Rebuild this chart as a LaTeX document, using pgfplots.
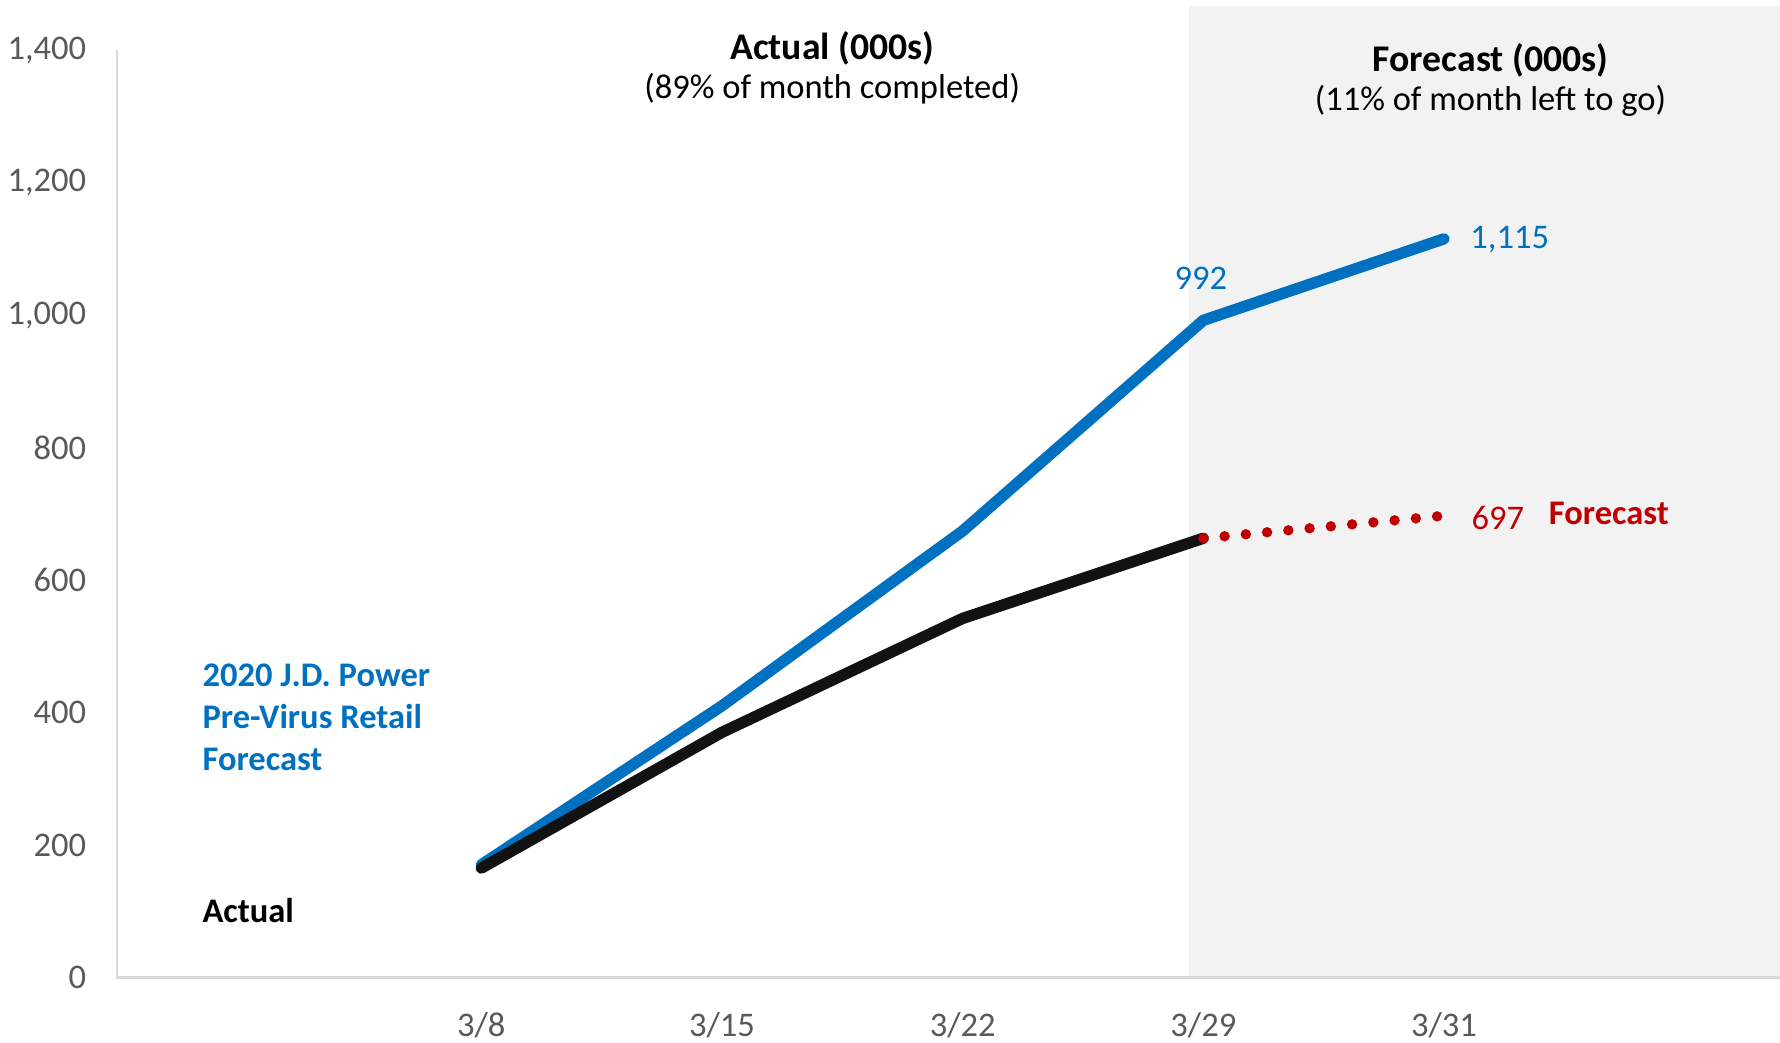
\documentclass[border=0pt]{standalone}
\usepackage{fontspec}
\setmainfont{Carlito}
\usepackage{pgfplots}
\pgfplotsset{compat=1.18}
\definecolor{jdblue}{HTML}{0070C0}
\definecolor{fcred}{HTML}{C00000}
\definecolor{shade}{HTML}{F2F2F2}
\definecolor{axisgray}{HTML}{D9D9D9}
\definecolor{ticktext}{HTML}{595959}

\newcommand{\lbl}{\fontsize{15.2}{18.5}\selectfont}

\begin{document}
\begin{tikzpicture}
\begin{axis}[
  name=ax,
  scale only axis,
  width=732.5pt, height=428pt,
  xmin=-1.514, xmax=5.396,
  ymin=0, ymax=1467,
  axis line style={draw=none},
  major tick length=0pt,
  xtick={0,1,2,3,4},
  xticklabels={3/8,3/15,3/22,3/29,3/31},
  ytick={0,200,...,1400},
  /pgf/number format/assume math mode=true,
  /pgf/number format/1000 sep={,},
  tick label style={font=\lbl, text=ticktext},
  xticklabel style={anchor=center, yshift=-21pt},
  yticklabel style={anchor=east, xshift=-10pt},
  clip=false,
]
% forecast shading
\addplot[fill=shade, draw=none] coordinates {(2.94,1467) (5.396,1467)} \closedcycle;
% axis lines
\addplot[axisgray, line width=1pt] coordinates {(-1.514,1400) (-1.514,0) (5.396,0)};

% pre-virus forecast
\addplot[jdblue, line width=5pt, line cap=round, line join=round]
  coordinates {(0,170) (1,410) (2,674) (3,992) (4,1115)};
% actual
\addplot[black!93, line width=5pt, line cap=round, line join=round]
  coordinates {(0,165) (1,370) (2,542) (3,663)};
% forecast of actual
\addplot[fcred, line width=4.6pt, line cap=round, dash pattern=on 0pt off 9.4pt]
  coordinates {(3,663) (4,697)};

\node[font=\fontsize{16.6}{19}\selectfont\bfseries] at (axis cs:1.458,1402) {Actual (000s)};
\node[font=\lbl] at (axis cs:1.458,1341) {(89\% of month completed)};
\node[font=\fontsize{16.6}{19}\selectfont\bfseries] at (axis cs:4.193,1385) {Forecast (000s)};
\node[font=\lbl] at (axis cs:4.193,1323) {(11\% of month left to go)};

\node[jdblue, font=\lbl] at (axis cs:2.99,1056) {992};
\node[jdblue, font=\lbl, anchor=west, inner sep=0pt] at (axis cs:4.108,1114) {1,115};
\node[fcred, font=\lbl, anchor=west, inner sep=0pt] at (axis cs:4.113,694) {697};
\node[fcred, font=\lbl\bfseries, anchor=west, inner sep=0pt] at (axis cs:4.434,701) {Forecast};

\node[jdblue, font=\lbl\bfseries, anchor=west, align=left, inner sep=0pt] at (axis cs:-1.160,393)
  {2020 J.D. Power\\Pre-Virus Retail\\Forecast};
\node[font=\lbl\bfseries, anchor=west, inner sep=0pt] at (axis cs:-1.160,101) {Actual};
\end{axis}
\pgfresetboundingbox
\path ([xshift=-51.5pt,yshift=-28.5pt]ax.south west) rectangle ([yshift=2.5pt]ax.north east);
\end{tikzpicture}
\end{document}
